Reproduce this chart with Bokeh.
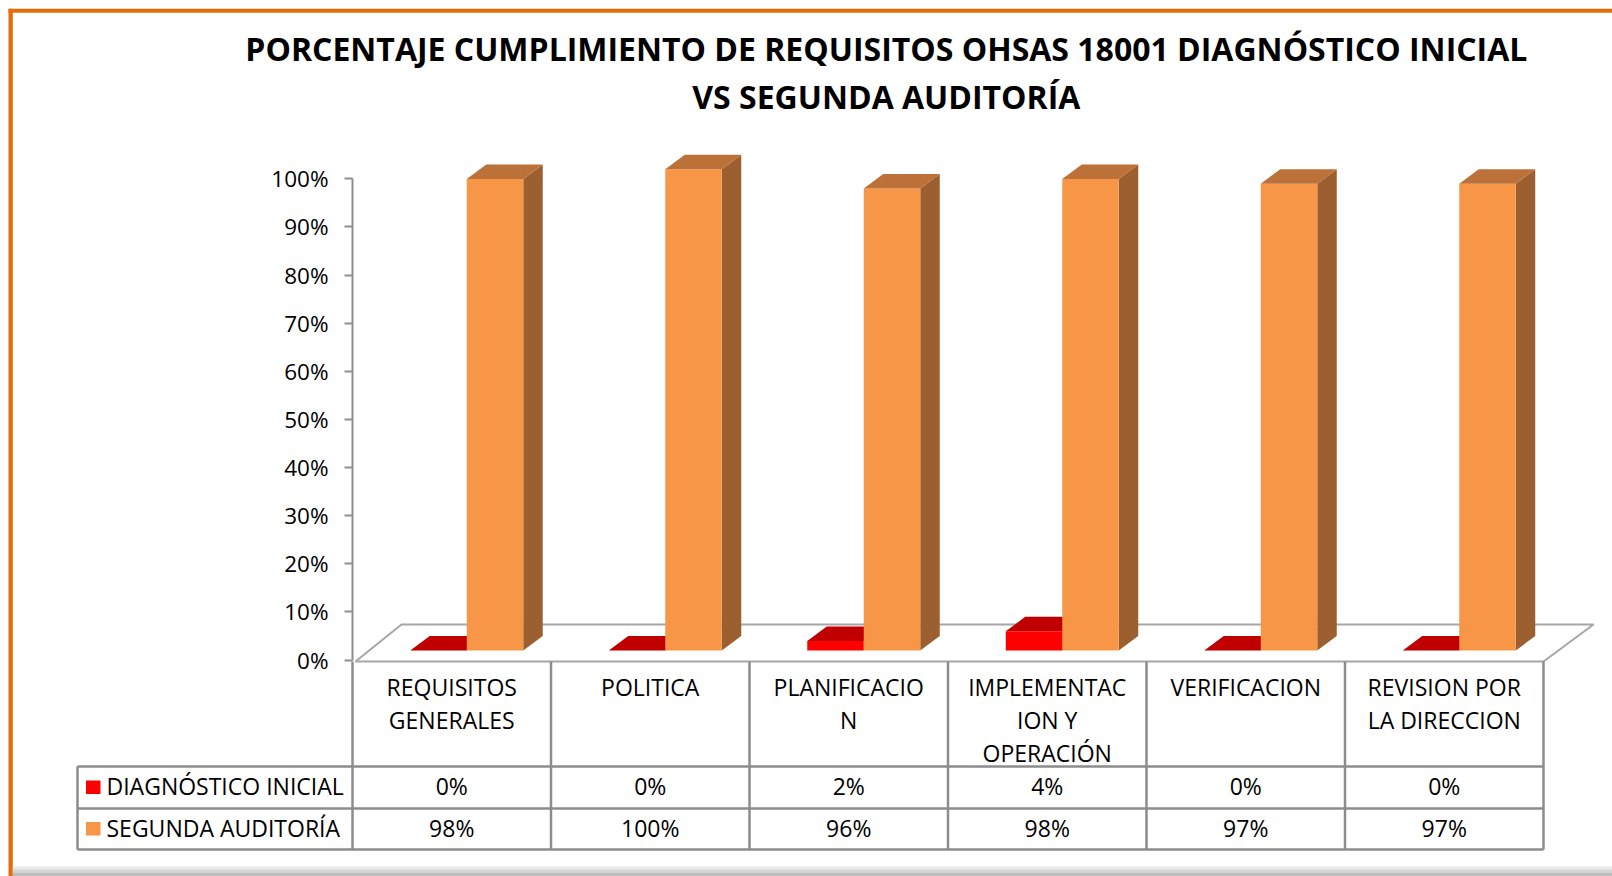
from bokeh.plotting import figure
from bokeh.models import Range1d, LinearAxis, FixedTicker, NumeralTickFormatter
from bokeh.core.properties import value
from bokeh.embed import file_html
from bokeh.resources import INLINE
import numpy as np

# ---------------- data ----------------
title_lines = ["PORCENTAJE CUMPLIMIENTO DE REQUISITOS OHSAS 18001  DIAGNÓSTICO INICIAL",
               "VS  SEGUNDA AUDITORÍA"]
categories = ["REQUISITOS\nGENERALES", "POLITICA", "PLANIFICACIO\nN",
              "IMPLEMENTAC\nION Y\nOPERACIÓN", "VERIFICACION", "REVISION POR\nLA DIRECCION"]
series_names = ["DIAGNÓSTICO INICIAL", "SEGUNDA AUDITORÍA"]
diagnostico = [0.00, 0.00, 0.02, 0.04, 0.00, 0.00]
segunda = [0.98, 1.00, 0.96, 0.98, 0.97, 0.97]
y_ticks = [0.0, 0.1, 0.2, 0.3, 0.4, 0.5, 0.6, 0.7, 0.8, 0.9, 1.0]

# colours (front, top, side)
red_cols = ["#FF0000", "#C00000", "#A00000"]
orange_cols = ["#F79646", "#BB7138", "#9C6030"]
border_col = "#E46C0A"
grid_gray = "#8C8C8C"
floor_gray = "#A6A6A6"
font = "Open Sans"

# ---------------- layout (pixels) ----------------
W, H = 1612, 876
OFF = 0
Y0 = 659.5          # pixel row of 0 %
PXU = 481.2         # pixels for 100 %


def vy(sy):
    return (Y0 - sy) / PXU


p = figure(width=W, height=H, output_backend="svg", toolbar_location=None,
           x_range=Range1d(OFF, OFF + W), y_range=Range1d(vy(OFF + H), vy(OFF)),
           x_axis_type=None, y_axis_type=None, min_border=0,
           min_border_left=0, min_border_right=0, min_border_top=0, min_border_bottom=0)
p.outline_line_color = None
p.grid.visible = False
p.background_fill_color = "white"
p.border_fill_color = "white"

ncat = len(categories)
col_left = 352.0
col_w = 198.5
leg_left = 77.0
cx = col_left + (np.arange(ncat) + 0.5) * col_w
table_right = col_left + ncat * col_w

# ---------------- floor ----------------
f_front = vy(661)
f_back = vy(624)
f_dx = 46
p.patch([col_left + 3, table_right, table_right + f_dx + 4, col_left + 3 + f_dx],
        [f_front, f_front, f_back, f_back], fill_color=None,
        line_color=floor_gray, line_width=2)

# ---------------- 3D bars ----------------
shift = 15.0
bw = 56.5
base = vy(650)
ddx = 19.5
ddy = 14.5 / PXU


def draw_bars(vals, left, cols):
    vals = np.asarray(vals, dtype=float)
    right = left + bw
    top = base + vals
    side_xs = [[r, r + ddx, r + ddx, r] for r in right]
    side_ys = [[base, base + ddy, t + ddy, t] for t in top]
    p.patches(side_xs, side_ys, fill_color=cols[2], line_color=None)
    p.quad(left=left, right=right, bottom=base, top=top, fill_color=cols[0], line_color=None)
    top_xs = [[l, r, r + ddx, l + ddx] for l, r in zip(left, right)]
    top_ys = [[t, t, t + ddy, t + ddy] for t in top]
    p.patches(top_xs, top_ys, fill_color=cols[1], line_color=None)


draw_bars(diagnostico, cx + shift - bw, red_cols)
draw_bars(segunda, cx + shift, orange_cols)

# ---------------- y axis ----------------
yaxis = LinearAxis(fixed_location=col_left, ticker=FixedTicker(ticks=y_ticks),
                   formatter=NumeralTickFormatter(format="0%"), bounds=(0, 1))
yaxis.axis_line_color = "#8E8E8E"
yaxis.axis_line_width = 2
yaxis.major_tick_line_color = "#8E8E8E"
yaxis.major_tick_line_width = 2
yaxis.major_tick_out = 8
yaxis.major_tick_in = 0
yaxis.minor_tick_out = 0
yaxis.minor_tick_in = 0
yaxis.major_label_standoff = 16
yaxis.major_label_text_font = font
yaxis.major_label_text_font_size = "22.5px"
yaxis.major_label_text_color = "black"
p.add_layout(yaxis, "left")

# ---------------- data table ----------------
r_top = vy(766)
r_mid = vy(808)
r_bot = vy(849)
hx0, hx1, hy0, hy1 = [], [], [], []
for yy in (r_top, r_mid, r_bot):
    hx0.append(leg_left); hx1.append(table_right); hy0.append(yy); hy1.append(yy)
for k in range(ncat + 1):
    xx = col_left + k * col_w
    hx0.append(xx); hx1.append(xx); hy0.append(f_front); hy1.append(r_bot)
hx0.append(leg_left); hx1.append(leg_left); hy0.append(r_top); hy1.append(r_bot)
p.segment(hx0, hy0, hx1, hy1, line_color=grid_gray, line_width=2.5)

# category headers
p.text(x=cx, y=[vy(670)] * ncat, text=categories, text_align="center", text_baseline="top",
       text_font=value(font), text_font_size=value("23px"), text_color="black",
       text_line_height=1.04)

# values
row1_y = vy(785)
row2_y = vy(827)
p.text(x=cx, y=[row1_y] * ncat, text=[f"{round(v * 100)}%" for v in diagnostico],
       text_align="center", text_baseline="middle", text_font=value(font),
       text_font_size=value("23px"), text_color="black")
p.text(x=cx, y=[row2_y] * ncat, text=[f"{round(v * 100)}%" for v in segunda],
       text_align="center", text_baseline="middle", text_font=value(font),
       text_font_size=value("23px"), text_color="black")

# legend keys
p.quad(left=[85.5, 85.5], right=[100, 100], top=[vy(780), vy(821.5)], bottom=[vy(793.5), vy(835)],
       fill_color=[red_cols[0], orange_cols[0]], line_color=None)
p.text(x=[106, 106], y=[row1_y, row2_y], text=series_names, text_align="left",
       text_baseline="middle", text_font=value(font), text_font_size=value("23px"),
       text_color="black")

# ---------------- title ----------------
p.text(x=[890, 890], y=[vy(47.5), vy(95.5)], text=title_lines, text_align="center",
       text_baseline="alphabetic", text_font=value(font), text_font_size=value("32px"),
       text_font_style="bold", text_color="black")

# ---------------- frame ----------------
p.quad(left=[8, 8], right=[W, 12.3], top=[vy(8.3), vy(8.3)], bottom=[vy(12.3), vy(H)],
       fill_color=border_col, line_color=None)
p.quad(left=[12.3, 12.3, 12.3], right=[W, W, W], top=[vy(866), vy(869), vy(872)],
       bottom=[vy(869), vy(872), vy(H)],
       fill_color=["#E8E8E8", "#D4D4D4", "#BDBDBD"], line_color=None)

html = file_html(p, INLINE)
open("out.html", "w").write(html)
